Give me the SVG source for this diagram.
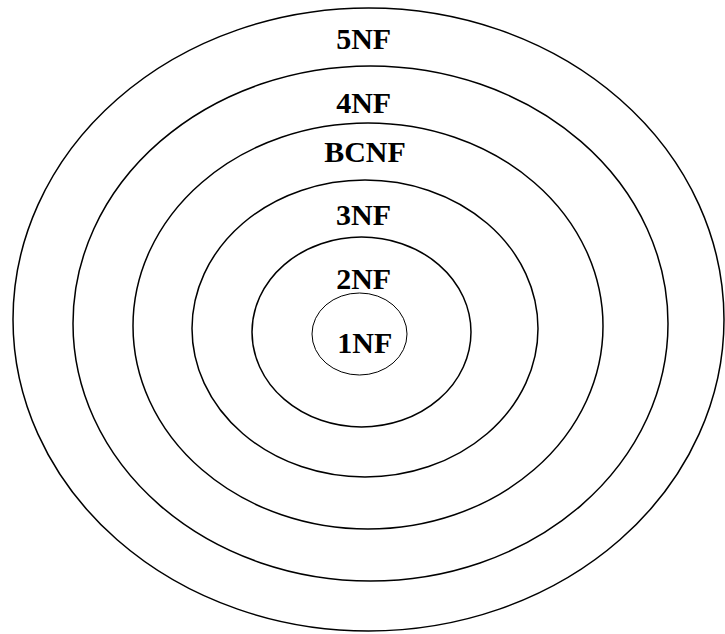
<svg xmlns="http://www.w3.org/2000/svg" width="725" height="634" viewBox="0 0 725 634">
<style>
.ring{fill:none;stroke:#000;stroke-width:1.5}
.inner{fill:none;stroke:#000;stroke-width:1}
.lbl{font-family:"Liberation Serif","Times New Roman",serif;font-weight:bold;font-size:30px;fill:#000;text-anchor:middle}
</style>
<rect width="725" height="634" fill="#fff"/>
<g id="nf5"><ellipse class="ring" cx="368.5" cy="319.5" rx="355.5" ry="311.5"/><text class="lbl" x="363.7" y="49.3">5NF</text></g>
<g id="nf4"><ellipse class="ring" cx="370.5" cy="323.5" rx="297.5" ry="257.5"/><text class="lbl" x="363.7" y="112.7">4NF</text></g>
<g id="bcnf"><ellipse class="ring" cx="368" cy="326" rx="235" ry="203"/><text class="lbl" x="365" y="161.5">BCNF</text></g>
<g id="nf3"><ellipse class="ring" cx="365" cy="328.5" rx="173" ry="148.5"/><text class="lbl" x="363.5" y="225">3NF</text></g>
<g id="nf2"><ellipse class="ring" cx="361.5" cy="332" rx="109.5" ry="95"/><text class="lbl" x="363.7" y="289">2NF</text></g>
<g id="nf1"><ellipse class="inner" cx="359.5" cy="334" rx="47.5" ry="41"/><text class="lbl" x="364.8" y="353">1NF</text></g>
<g id="connectors"/>
</svg>
